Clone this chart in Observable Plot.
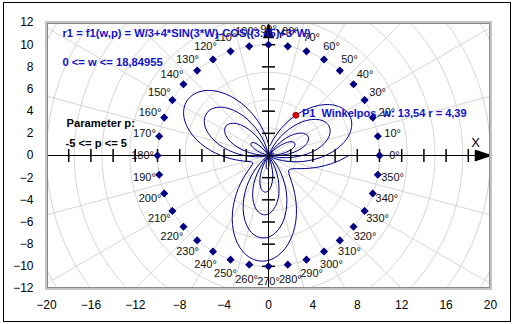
<!DOCTYPE html>
<html><head><meta charset="utf-8">
<script src="https://cdn.jsdelivr.net/npm/d3@7"></script>
<script src="https://cdn.jsdelivr.net/npm/@observablehq/plot@0.6"></script>
<style>
body{margin:0;background:#fff;}
#wrap{position:relative;width:515px;height:324px;}
#border{position:absolute;left:3px;top:2px;width:506px;height:318px;border:1px solid #000;pointer-events:none;}
</style></head><body>
<div id="wrap"><div id="chart"></div><div id="border"></div></div>
<script>
// ---- data ----
const xTickLabels = [-20,-16,-12,-8,-4,0,4,8,12,16,20];
const yTickLabels = [-12,-10,-8,-6,-4,-2,0,2,4,6,8,10,12];
const xAxisTicks = [-18,-16,-14,-12,-10,-8,-6,-4,-2,2,4,6,8,10,12,14,16,18];
const yAxisTicks = [-10,-8,-6,-4,-2,2,4,6,8,10];
const dotAngles = [0,10,20,30,40,50,60,70,80,90,100,110,120,130,140,150,160,170,180,190,200,210,220,230,240,250,260,270,280,290,300,310,320,330,340,350];
const dotRadius = [10];
const labelRadius = [11.35];
const gridRadii = [2.5,5,7.5,10,12.5,15,17.5,20,22.5,25];
const gridAngles = [0,15,30,45,60,75,90,105,120,135,150,165,180,195,210,225,240,255,270,285,300,315,330,345];
const curveStepDeg = 5; // w sampled every 5 degrees from 0 to 1080 (0 <= w <= 6π)
const curveR = [
 0.95,1.91,2.73,3.38,3.79,3.96,3.87,3.53,2.96,2.20,1.31,0.36,-0.60,-1.50,-2.27,-2.85,-3.21,-3.32,-3.17,-2.77,-2.14,-1.33,-0.38,0.63,
 1.65,2.60,3.43,4.07,4.49,4.66,4.57,4.23,3.66,2.90,2.01,1.05,0.09,-0.80,-1.57,-2.15,-2.51,-2.62,-2.48,-2.07,-1.45,-0.63,0.32,1.33,
 2.35,3.30,4.13,4.77,5.19,5.36,5.27,4.92,4.35,3.60,2.71,1.75,0.79,-0.10,-0.87,-1.46,-1.82,-1.93,-1.78,-1.38,-0.75,0.07,1.01,2.03,
 3.05,4.00,4.83,5.47,5.89,6.06,5.97,5.62,5.05,4.30,3.41,2.45,1.49,0.60,-0.17,-0.76,-1.12,-1.23,-1.08,-0.68,-0.05,0.77,1.71,2.73,
 3.75,4.70,5.52,6.17,6.59,6.76,6.66,6.32,5.75,4.99,4.11,3.15,2.19,1.29,0.53,-0.06,-0.42,-0.53,-0.38,0.02,0.65,1.46,2.41,3.43,
 4.44,5.40,6.22,6.87,7.29,7.45,7.36,7.02,6.45,5.69,4.80,3.85,2.89,1.99,1.23,0.64,0.28,0.17,0.32,0.72,1.35,2.16,3.11,4.12,
 5.14,6.10,6.92,7.56,7.98,8.15,8.06,7.72,7.15,6.39,5.50,4.55,3.59,2.69,1.92,1.34,0.98,0.87,1.02,1.42,2.05,2.86,3.81,4.82,
 5.84,6.79,7.62,8.26,8.68,8.85,8.76,8.42,7.85,7.09,6.20,5.24,4.28,3.39,2.62,2.04,1.67,1.57,1.71,2.12,2.74,3.56,4.50,5.52,
 6.54,7.49,8.32,8.96,9.38,9.55,9.46,9.11,8.54,7.79,6.90,5.94,4.98,4.09,3.32,2.73,2.37,2.26,2.41,2.81,3.44,4.26,5.20,6.22,
 7.24
];
const p1 = [{w: 13.54, r: 4.39}];
const formulaText = ["r1 = f1(w,p) = W/3+4*SIN(3*W)-COS((3.45)+3*W)"];
const rangeText = ["0 <= w <= 18,84955"];
const paramText = ["Parameter p:"];
const paramRangeText = ["-5 <= p <= 5"];
const p1Text = ["P1  Winkelpos. w: 13,54 r = 4,39"];

// ---- helpers ----
const rad = d => d * Math.PI / 180;
const px = (r, deg) => r * Math.cos(rad(deg));
const py = (r, deg) => r * Math.sin(rad(deg));

const curve = curveR.map((r, i) => ({r, a: i * curveStepDeg}));
const circlePts = gridRadii.flatMap(r => d3.range(0, 362, 2).map(a => ({r, a})));
const dots = dotAngles.map(a => ({a, r: dotRadius[0]}));

const vTick = {draw(c){ c.moveTo(0,-6.5); c.lineTo(0,6.5); }};
const hTick = {draw(c){ c.moveTo(-6.5,0); c.lineTo(6.5,0); }};
const arrowRight = {draw(c){ c.moveTo(0,0); c.lineTo(-15,-5); c.lineTo(-15,5); c.closePath(); }};
const arrowUp = {draw(c){ c.moveTo(0,2); c.lineTo(-4.5,15); c.lineTo(4.5,15); c.closePath(); }};
const diamond = {draw(c){ c.moveTo(0,-3); c.lineTo(3,0); c.lineTo(0,3); c.lineTo(-3,0); c.closePath(); }};

const xDom = [xTickLabels[0], xTickLabels[xTickLabels.length-1]];
const yDom = [yTickLabels[0], yTickLabels[yTickLabels.length-1]];
const gridColor = "#d6d6d6";
const blue = "#1212c8";
const font = "'Liberation Sans', Arial, sans-serif";
const fs = 11.2;

const chart = Plot.plot({
  width: 515, height: 324,
  marginLeft: 46, marginRight: 25, marginTop: 22, marginBottom: 36,
  style: {fontFamily: font, fontSize: "12px", background: "white", color: "black"},
  x: {domain: xDom, ticks: xTickLabels, tickSize: 0, tickPadding: 12, label: null},
  y: {domain: yDom, ticks: yTickLabels, tickSize: 0, tickPadding: 13, label: null},
  marks: [
    Plot.line(circlePts, {x: d => px(d.r, d.a), y: d => py(d.r, d.a), z: "r", stroke: gridColor, strokeWidth: 1, clip: true}),
    Plot.link(gridAngles, {x1: 0, y1: 0, x2: a => px(30, a), y2: a => py(30, a), stroke: gridColor, strokeWidth: 1, clip: true}),
    Plot.line(curve, {x: d => px(d.r, d.a), y: d => py(d.r, d.a), stroke: "#00008c", strokeWidth: 1, curve: "catmull-rom"}),
    Plot.ruleY([0], {stroke: "black", strokeWidth: 1}),
    Plot.ruleX([0], {stroke: "black", strokeWidth: 1}),
    Plot.dot(xAxisTicks, {x: d => d, y: 0, symbol: vTick, stroke: "black", fill: "none", r: 5}),
    Plot.dot(yAxisTicks, {x: 0, y: d => d, symbol: hTick, stroke: "black", fill: "none", r: 5}),
    Plot.dot([xDom[1]], {x: d => d, y: 0, symbol: arrowRight, fill: "black", stroke: "black", r: 5}),
    Plot.dot([yDom[1]], {x: 0, y: d => d, symbol: arrowUp, fill: "black", stroke: "black", r: 5}),
    Plot.text(["X"], {x: xDom[1], y: 0, text: d => d, dx: -15, dy: -13, fontSize: 13, fill: "black"}),
    Plot.text(["Y"], {x: 0, y: yDom[1], text: d => d, dx: 12, dy: 11, fontSize: 13, fill: "black"}),
    Plot.dot(dots, {x: d => px(d.r, d.a), y: d => py(d.r, d.a), symbol: diamond, fill: "#000080", stroke: "#000080", r: 5}),
    Plot.text(dotAngles, {x: a => px(labelRadius[0], a), y: a => py(labelRadius[0], a), text: a => a + "°", fontSize: 11, fill: "#111", textAnchor: "middle", lineAnchor: "middle"}),
    Plot.text(formulaText, {frameAnchor: "top-left", dx: 16, dy: 11, text: d => d, textAnchor: "start", lineAnchor: "middle", fontSize: fs, fontWeight: "bold", fill: blue}),
    Plot.text(rangeText, {frameAnchor: "top-left", dx: 16, dy: 40, text: d => d, textAnchor: "start", lineAnchor: "middle", fontSize: fs, fontWeight: "bold", fill: blue}),
    Plot.text(paramText, {frameAnchor: "top-left", dx: 20, dy: 101, text: d => d, textAnchor: "start", lineAnchor: "middle", fontSize: fs, fontWeight: "bold", fill: "black"}),
    Plot.text(paramRangeText, {frameAnchor: "top-left", dx: 19, dy: 121, text: d => d, textAnchor: "start", lineAnchor: "middle", fontSize: fs, fontWeight: "bold", fill: "black"}),
    Plot.dot(p1, {x: d => px(d.r, d.w * 180 / Math.PI), y: d => py(d.r, d.w * 180 / Math.PI), r: 3, fill: "#e00000", stroke: "#900000", strokeWidth: 0.8}),
    Plot.text(p1, {x: d => px(d.r, d.w * 180 / Math.PI), y: d => py(d.r, d.w * 180 / Math.PI), text: () => p1Text[0], dx: 6, dy: -2, textAnchor: "start", lineAnchor: "middle", fontSize: 11, fontWeight: "bold", fill: blue}),
    Plot.frame({stroke: "#c4c4c4", strokeWidth: 3}),
    Plot.frame({stroke: "#8a8a8a", strokeWidth: 1, inset: 1})
  ]
});
document.getElementById("chart").appendChild(chart);
</script>
</body></html>
